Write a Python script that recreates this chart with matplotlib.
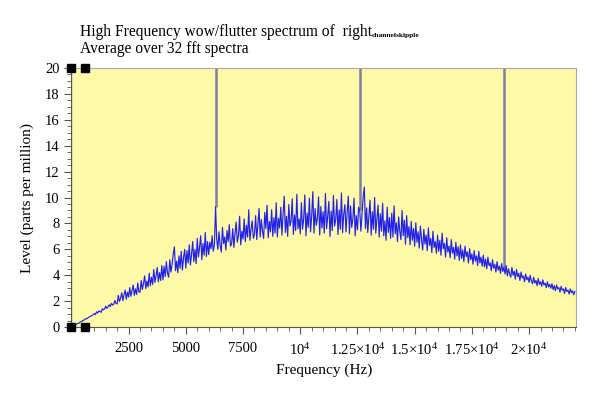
import numpy as np
import matplotlib
matplotlib.use('Agg')
import matplotlib.pyplot as plt

plt.rcParams['font.family'] = ['Liberation Serif', 'DejaVu Serif']
plt.rcParams['mathtext.fontset'] = 'custom'
plt.rcParams['mathtext.rm'] = 'Liberation Serif'
plt.rcParams['mathtext.it'] = 'Liberation Serif:italic'

# spectrum, one value every 50 Hz from 0 to 22000 Hz
freq_step = 50
level = [
    0.00, 0.06, 0.09, 0.17, 0.18, 0.27, 0.29, 0.33, 0.41, 0.44, 0.52, 0.53, 0.62, 0.64, 0.68, 0.77, 0.79, 0.86, 0.88, 0.97,
    1.05, 0.96, 1.18, 1.09, 1.25, 1.21, 1.14, 1.42, 1.33, 1.40, 1.61, 1.44, 1.56, 1.72, 1.58, 1.83, 1.70, 1.78, 2.05, 1.82,
    1.80, 2.45, 1.98, 2.22, 2.65, 2.05, 2.50, 2.85, 2.15, 2.70, 2.32, 3.05, 2.38, 2.80, 3.25, 2.45, 2.95, 2.52, 3.40, 2.70,
    2.70, 3.60, 2.90, 3.35, 3.95, 2.98, 3.55, 3.10, 4.15, 3.20, 3.85, 3.30, 4.45, 3.45, 3.95, 4.60, 3.50, 4.20, 3.60, 4.75,
    3.65, 4.70, 3.90, 5.05, 4.15, 3.85, 5.20, 4.25, 4.85, 5.65, 6.20, 4.35, 5.10, 4.20, 5.50, 4.55, 5.85, 4.40, 5.35, 6.00,
    4.55, 5.90, 4.95, 6.35, 4.80, 5.60, 6.60, 5.05, 6.00, 4.90, 6.85, 5.40, 6.15, 7.05, 5.20, 6.45, 5.55, 7.30, 5.45, 6.60,
    5.60, 6.55, 6.05, 7.05, 5.85, 6.40, 9.30, 6.75, 6.00, 7.35, 6.30, 5.80, 7.70, 6.45, 6.95, 5.95, 7.45, 6.60, 7.90, 6.25,
    6.40, 7.60, 6.15, 7.25, 8.10, 6.55, 7.05, 8.55, 6.35, 7.40, 6.80, 8.35, 6.60, 7.85, 6.95, 9.05, 6.70, 7.55, 8.20, 6.85,
    7.15, 8.60, 6.75, 7.95, 9.15, 6.95, 8.30, 7.40, 6.85, 8.85, 7.60, 9.40, 6.90, 8.15, 7.35, 9.05, 7.00, 8.45, 7.25, 9.60,
    6.95, 8.40, 7.65, 9.25, 7.10, 8.75, 10.10, 7.30, 8.55, 7.00, 9.45, 7.80, 8.20, 9.90, 7.15, 8.65, 7.45, 10.25, 7.60, 8.35,
    7.20, 9.60, 7.55, 8.35, 10.20, 7.05, 8.80, 7.70, 9.95, 7.35, 8.60, 10.45, 7.25, 9.15, 7.85, 8.40, 10.05, 7.10, 9.30, 7.65,
    8.90, 7.25, 10.30, 7.60, 8.55, 9.70, 7.00, 8.95, 7.45, 10.15, 7.80, 8.30, 9.85, 7.15, 9.05, 7.55, 10.35, 7.30, 8.70, 9.45,
    7.35, 8.85, 10.10, 7.20, 9.35, 7.70, 8.40, 9.95, 7.05, 8.60, 7.50, 9.25, 9.00, 7.40, 8.70, 10.05, 10.80, 7.60, 9.20, 7.30,
    8.55, 9.80, 7.10, 8.90, 7.55, 10.00, 7.25, 8.35, 9.40, 6.95, 8.75, 7.40, 9.55, 7.05, 8.20, 6.70, 9.25, 7.30, 8.45, 6.85,
    8.80, 6.95, 9.35, 7.20, 8.05, 6.60, 8.50, 7.40, 6.75, 9.00, 7.05, 8.25, 6.40, 8.60, 6.90, 7.75, 6.35, 8.15, 6.70, 7.60,
    6.25, 8.05, 6.55, 7.35, 6.10, 7.80, 6.80, 5.95, 7.55, 6.40, 7.10, 5.90, 7.65, 6.30, 6.85, 5.75, 7.40, 6.15, 6.60, 5.70,
    7.10, 5.85, 6.70, 5.55, 7.25, 6.05, 6.45, 5.40, 6.90, 5.80, 6.25, 5.35, 6.75, 5.70, 6.15, 5.25, 6.55, 5.50, 6.20, 5.15,
    6.35, 5.30, 5.95, 5.05, 6.25, 5.45, 5.80, 4.95, 6.05, 5.20, 5.65, 4.85, 5.90, 5.10, 5.50, 4.75, 5.85, 4.95, 5.40, 4.70,
    5.55, 4.65, 5.25, 4.50, 5.40, 4.75, 4.95, 4.35, 5.20, 4.55, 4.85, 4.25, 5.05, 4.40, 4.70, 4.15, 4.90, 4.30, 4.60, 4.10,
    4.75, 3.95, 4.50, 4.10, 3.85, 4.60, 4.00, 4.30, 3.70, 4.45, 3.90, 4.15, 3.60, 4.25, 3.80, 3.95, 3.50, 4.10, 3.65, 3.85,
    3.45, 4.00, 3.55, 3.35, 3.85, 3.40, 3.60, 3.20, 3.75, 3.30, 3.50, 3.15, 3.65, 3.25, 3.40, 3.05, 3.50, 3.10, 3.30, 3.00,
    3.35, 2.90, 3.20, 2.80, 3.25, 2.95, 3.05, 2.70, 3.15, 2.85, 2.95, 2.60, 3.05, 2.75, 2.85, 2.55, 2.95, 2.65, 2.80, 2.50,
    2.75,
]
freq = np.arange(len(level)) * freq_step

# tall spikes (clipped at top of plot)
spike_freqs = [6300, 12600, 18900]
spike_bottoms = [9.3, 9.0, 4.6]
dc_top = 20

# corner markers
marker_x = [0, 600, 0, 600]
marker_y = [0, 0, 20, 20]

xticks = [2500, 5000, 7500, 10000, 12500, 15000, 17500, 20000]
xticklabels = ['2500', '5000', '7500', '10$^{4}$', '1.25×10$^{4}$',
               '1.5×10$^{4}$', '1.75×10$^{4}$', '2×10$^{4}$']
yticks = list(range(0, 21, 2))

fig = plt.figure(figsize=(6, 3.97), dpi=100)
ax = fig.add_axes([0.119, 0.176, 0.841, 0.653])
ax.set_facecolor('#fef9a6')

ax.vlines(spike_freqs, spike_bottoms, 20, colors='#7e7ea6', linewidth=1.8)
ax.vlines([0], 0, dc_top, colors='#2020c0', linewidth=1.6)
ax.plot(freq, level, color='#1f1ff0', linewidth=0.85)
ax.plot(marker_x, marker_y, 's', color='black', markersize=5.5, clip_on=False, zorder=5)

ax.set_xlim(0, 22050)
ax.set_ylim(0, 20)
ax.set_xticks(xticks)
ax.set_xticklabels(xticklabels)
ax.set_xticks(np.arange(0, 22051, 500), minor=True)
ax.set_yticks(yticks)
ax.set_yticks(np.arange(0, 20.01, 0.5), minor=True)

for s in ['top', 'right']:
    ax.spines[s].set_color('#a8a8a8')
for s in ['bottom', 'left']:
    ax.spines[s].set_color('#555555')
ax.tick_params(which='major', length=5, width=0.8, color='#555555', labelsize=10.5)
ax.tick_params(which='minor', length=3, width=0.6, color='#555555')
ax.tick_params(axis='x', pad=6)

ax.set_xlabel('Frequency (Hz)', fontsize=11)
ax.set_ylabel('Level (parts per million)', fontsize=11, labelpad=8)

t1 = fig.text(0.133, 0.92, 'High Frequency wow/flutter spectrum of  right', fontsize=11.2, va='center')
plt.annotate('channelskipple', xy=(1, 0.12), xycoords=t1, xytext=(0, 0),
             textcoords='offset points', fontsize=5.4, fontweight='bold', va='bottom')
fig.text(0.133, 0.877, 'Average over 32 fft spectra', fontsize=11.2, va='center')

fig.savefig('out.png', dpi=100)
